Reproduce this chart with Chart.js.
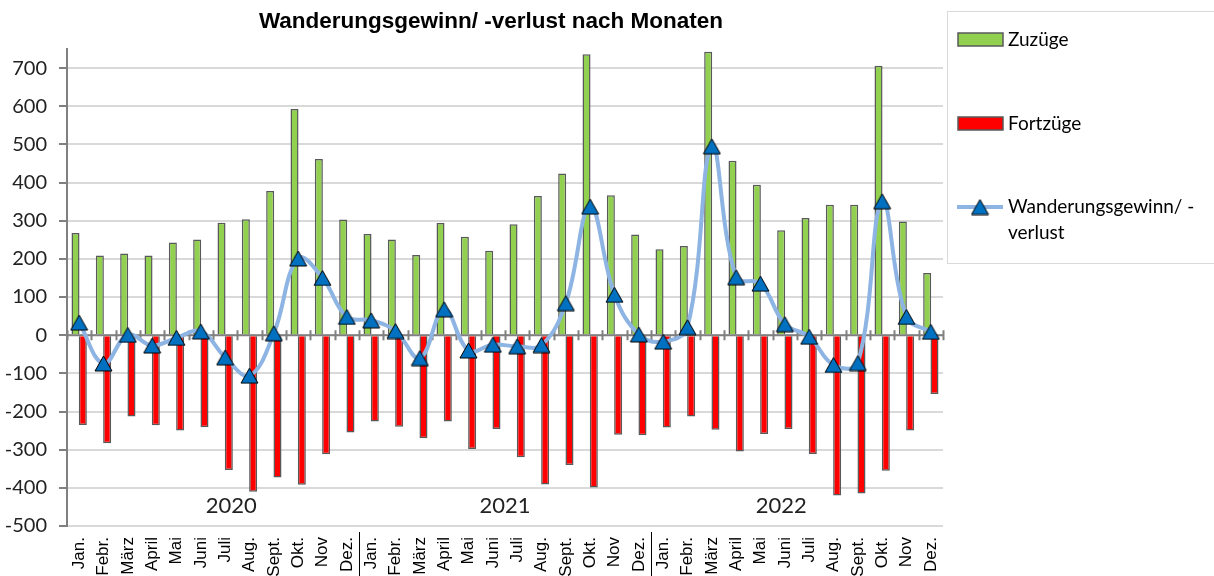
<!DOCTYPE html>
<html>
<head>
<meta charset="utf-8">
<script src="https://cdn.jsdelivr.net/npm/chart.js@4/dist/chart.umd.min.js"></script>
<style>
  body { margin: 0; background: #fff; }
</style>
</head>
<body>
<canvas id="chart" width="1214" height="576"></canvas>
<script>
// month labels, repeated for 2020 - 2022
const months = ['Jan.', 'Febr.', 'März', 'April', 'Mai', 'Juni', 'Juli', 'Aug.', 'Sept.', 'Okt.', 'Nov', 'Dez.'];
const labels = [...months, ...months, ...months];
const years = ['2020', '2021', '2022'];

const zuzuege = [268, 209, 214, 209, 243, 251, 295, 304, 378, 593, 462, 303,
                 265, 251, 210, 294, 258, 221, 291, 365, 424, 736, 367, 264,
                 225, 234, 743, 457, 394, 275, 307, 342, 342, 706, 298, 163];
const fortzuege = [-235, -283, -213, -236, -250, -241, -353, -410, -373, -392, -312, -255,
                   -226, -240, -270, -226, -298, -246, -320, -391, -340, -399, -261, -262,
                   -242, -213, -248, -305, -259, -246, -311, -420, -415, -355, -250, -154];
const saldo = [33, -74, 1, -27, -7, 10, -58, -106, 5, 201, 150, 48,
               39, 11, -60, 68, -40, -25, -29, -26, 84, 337, 106, 2,
               -17, 21, 495, 152, 135, 29, -4, -78, -73, 351, 48, 9];

const yTicks = [-500, -400, -300, -200, -100, 0, 100, 200, 300, 400, 500, 600, 700];

const green = '#92d050';
const red = '#ff0000';
const lineBlue = '#8db4e2';
const markerBlue = '#0070c0';
const edge = '#595959';

// triangle marker centred on its box, like the spreadsheet markers
function makeTriangle(w, h) {
    const c = document.createElement('canvas');
    c.width = w + 2;
    c.height = h + 2;
    const g = c.getContext('2d');
    g.fillStyle = markerBlue;
    g.strokeStyle = '#000';
    g.lineWidth = 1;
    g.beginPath();
    g.moveTo(c.width / 2, 1);
    g.lineTo(w + 1, h + 1);
    g.lineTo(1, h + 1);
    g.closePath();
    g.fill();
    g.stroke();
    return c;
}
const triangle = makeTriangle(17, 15);

// zero axis, year labels, title and legend
const extras = {
    id: 'extras',
    beforeDatasetsDraw(chart) {
        const {ctx, chartArea, scales: {x, y}} = chart;
        const y0 = y.getPixelForValue(0);
        ctx.save();
        ctx.strokeStyle = '#808080';
        ctx.lineWidth = 2;
        ctx.beginPath();
        ctx.moveTo(chartArea.left, y0);
        ctx.lineTo(chartArea.right, y0);
        for (let i = 0; i <= labels.length; i++) {
            const px = Math.round(x.getPixelForValue(i - 0.5)) + 0.5;
            ctx.moveTo(px, y0 - 5);
            ctx.lineTo(px, y0 + 5);
        }
        ctx.stroke();
        ctx.restore();
    },
    afterDraw(chart) {
        const {ctx, chartArea, scales: {x, y}} = chart;
        ctx.save();

        // title
        ctx.fillStyle = '#000';
        ctx.font = 'bold 22.5px "Liberation Sans", Arial, sans-serif';
        ctx.textAlign = 'center';
        ctx.textBaseline = 'alphabetic';
        ctx.fillText('Wanderungsgewinn/ -verlust nach Monaten', 491, 28);

        // year labels
        ctx.font = '22px Lato, sans-serif';
        ctx.fillStyle = '#222';
        ctx.textBaseline = 'middle';
        const yearPos = [6.25, 17.5, 28.85];
        years.forEach((yr, i) => {
            ctx.fillText(yr, x.getPixelForValue(yearPos[i]), y.getPixelForValue(-447));
        });

        // separators between years in the label area
        ctx.strokeStyle = '#000';
        ctx.lineWidth = 1;
        ctx.beginPath();
        [11.5, 23.5].forEach(v => {
            const px = Math.round(x.getPixelForValue(v)) + 0.5;
            ctx.moveTo(px, chartArea.bottom + 6);
            ctx.lineTo(px, 576);
        });
        ctx.stroke();

        // legend
        ctx.strokeStyle = '#d9d9d9';
        ctx.strokeRect(947.5, 11.5, 300, 252);
        ctx.textAlign = 'left';
        ctx.font = '19px Lato, sans-serif';

        ctx.lineWidth = 1.5;
        ctx.strokeStyle = edge;
        ctx.fillStyle = green;
        ctx.fillRect(958, 33, 45, 13);
        ctx.strokeRect(958, 33, 45, 13);
        ctx.fillStyle = red;
        ctx.fillRect(958, 117, 45, 13);
        ctx.strokeRect(958, 117, 45, 13);

        ctx.strokeStyle = lineBlue;
        ctx.lineWidth = 4;
        ctx.beginPath();
        ctx.moveTo(957, 207);
        ctx.lineTo(1003, 207);
        ctx.stroke();
        ctx.drawImage(triangle, 980 - triangle.width / 2, 207 - triangle.height / 2);

        ctx.fillStyle = '#000';
        ctx.fillText('Zuzüge', 1008, 40);
        ctx.fillText('Fortzüge', 1008, 124);
        ctx.fillText('Wanderungsgewinn/ -', 1008, 207);
        ctx.fillText('verlust', 1008, 233);

        ctx.restore();
    }
};

const ctx = document.getElementById('chart').getContext('2d');
const chart = new Chart(ctx, {
    type: 'bar',
    data: {
        labels: labels,
        datasets: [{
            type: 'line',
            label: 'Wanderungsgewinn/ -verlust',
            data: saldo,
            borderColor: lineBlue,
            borderWidth: 4,
            tension: 0.4,
            pointStyle: triangle,
            pointRadius: 9,
            order: 0
        }, {
            label: 'Zuzüge',
            data: zuzuege,
            backgroundColor: green,
            borderColor: edge,
            borderWidth: 1.5,
            categoryPercentage: 0.6,
            barPercentage: 1.1,
            order: 1
        }, {
            label: 'Fortzüge',
            data: fortzuege,
            backgroundColor: red,
            borderColor: edge,
            borderWidth: 1.5,
            categoryPercentage: 0.6,
            barPercentage: 1.1,
            order: 2
        }]
    },
    options: {
        responsive: false,
        animation: false,
        devicePixelRatio: 1,
        layout: {
            padding: {top: 49, right: 271, left: 0, bottom: 0}
        },
        plugins: {
            legend: {display: false},
            title: {display: false},
            tooltip: {enabled: false}
        },
        scales: {
            x: {
                grid: {display: false, drawTicks: false},
                border: {display: false},
                ticks: {
                    autoSkip: false,
                    minRotation: 90,
                    maxRotation: 90,
                    padding: 11,
                    color: '#000',
                    font: {family: '"Liberation Sans", Arial, sans-serif', size: 17}
                },
                afterFit(scale) { scale.height = 50; }
            },
            y: {
                min: -500,
                max: 750,
                afterBuildTicks(scale) {
                    scale.ticks = yTicks.map(v => ({value: v}));
                },
                grid: {
                    color: '#d9d9d9',
                    lineWidth: 2,
                    tickColor: '#808080',
                    tickLength: 8
                },
                border: {display: true, color: '#808080', width: 2},
                ticks: {
                    padding: 12,
                    color: '#222',
                    font: {family: 'Lato, sans-serif', size: 20}
                },
                afterFit(scale) { scale.width = 67; }
            }
        }
    },
    plugins: [extras]
});
</script>
</body>
</html>
